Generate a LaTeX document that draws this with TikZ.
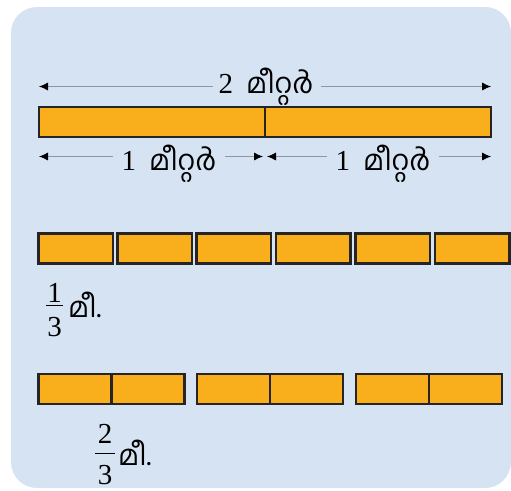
\documentclass[tikz,border=0pt]{standalone}
\usepackage{fontspec}
\setmainfont{Liberation Serif}
\newfontfamily\mal[Script=Malayalam]{Hind Kochi}
\usetikzlibrary{arrows.meta}
\definecolor{panel}{HTML}{D5E3F2}
\definecolor{bar}{HTML}{F8AF1B}
\definecolor{edge}{HTML}{262424}
\definecolor{dim}{HTML}{8E979E}
\begin{document}
\begin{tikzpicture}[x=1pt,y=-1pt,
  seg/.style={draw=edge,line width=2.2pt,fill=bar,inner sep=0pt,outer sep=0pt,anchor=north west},
  dimarrow/.style={draw=dim,line width=0.8pt},
  tipL/.style={{Latex[length=9pt,width=8pt,color=black]}-},
  tipR/.style={-{Latex[length=9pt,width=8pt,color=black]}},
  lbl/.style={inner sep=0pt,outer sep=0pt,anchor=base,font=\fontsize{29}{30}\selectfont},
  mtxt/.style={font=\mal\fontsize{28}{30}\selectfont},
  fracbar/.style={draw=black,line width=0.9pt},
]
\useasboundingbox (0,0) rectangle (511,490);
\fill[white] (0,0) rectangle (511,490);
\fill[panel,rounded corners=26pt] (11,7) rectangle (511,488);

% top bar
\node[seg,minimum width=226pt,minimum height=30pt] (topL) at (39,107) {};
\node[seg,minimum width=226pt,minimum height=30pt] (topR) at (265,107) {};

% top dimension
\coordinate (tl) at (39,86.5);
\coordinate (tr) at (491,86.5);
\node[lbl] (t2) at (266,93) {2\hspace{0.45em}{\mal\fontsize{28}{30}\selectfont മീറ്റർ}};
\draw[dimarrow,tipL] (tl) -- ([xshift=-6pt]t2.west |- tl);
\draw[dimarrow,tipR] ([xshift=8pt]t2.east |- tr) -- (tr);

% bottom dimensions
\coordinate (bl) at (39,156.5);
\coordinate (bm1) at (263,156.5);
\coordinate (bm2) at (267,156.5);
\coordinate (br) at (491,156.5);
\node[lbl] (b1) at (169,170) {1\hspace{0.45em}{\mal\fontsize{28}{30}\selectfont മീറ്റർ}};
\node[lbl] (b2) at (383,170) {1\hspace{0.45em}{\mal\fontsize{28}{30}\selectfont മീറ്റർ}};
\draw[dimarrow,tipL] (bl) -- ([xshift=-9pt]b1.west |- bl);
\draw[dimarrow,tipR] ([xshift=9pt]b1.east |- bm1) -- (bm1);
\draw[dimarrow,tipL] (bm2) -- ([xshift=-9pt]b2.west |- bm2);
\draw[dimarrow,tipR] ([xshift=9pt]b2.east |- br) -- (br);

% six thirds
\foreach \i/\x in {1/38.5,2/117.5,3/196.5,4/276,5/355.5,6/435}{
  \node[seg,minimum width=74.5pt,minimum height=30pt] (s\i) at (\x,233.5) {};
}

% three pairs
\foreach \i/\x in {1/38.5,2/197,3/356}{
  \node[seg,minimum width=73pt,minimum height=30pt] (p\i a) at (\x,374) {};
  \node[seg,minimum width=73pt,minimum height=30pt] (p\i b) at (\x+73,374) {};
}

% fraction 1/3
\node[lbl] (n1) at (54.5,302.5) {1};
\node[lbl] (d1) at (54.5,336) {3};
\coordinate (f1l) at (46,305.5);
\coordinate (f1r) at (63,305.5);
\draw[fracbar] (f1l) -- (f1r);
\node[lbl,anchor=base west,mtxt] (u1) at (68,317) {മീ.};

% fraction 2/3
\node[lbl] (n2) at (105,443) {2};
\node[lbl] (d2) at (105,484) {3};
\coordinate (f2l) at (95,453.5);
\coordinate (f2r) at (115,453.5);
\draw[fracbar] (f2l) -- (f2r);
\node[lbl,anchor=base west,mtxt] (u2) at (118,465) {മീ.};
\end{tikzpicture}
\end{document}
